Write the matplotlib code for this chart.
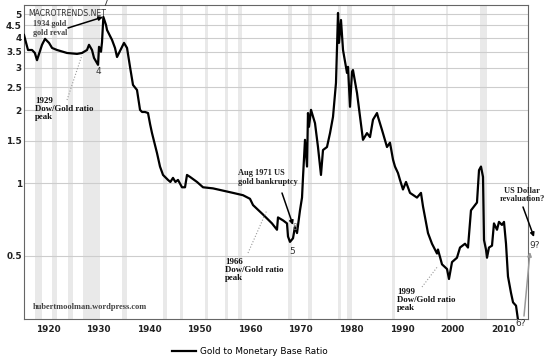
#goldmonetarybase.py

import matplotlib
matplotlib.use('Agg')
from matplotlib import pyplot as plt
from matplotlib.lines import Line2D

# Gold to Monetary Base Ratio (x = year on the chart's axis)
years = [1915.25, 1916.04, 1916.84, 1917.4, 1917.82, 1918.81, 1919.41, 1920.2, 1920.8, 1921.78,
         1923.76, 1925.74, 1926.72, 1927.71, 1928.11, 1928.7, 1929.1, 1929.89, 1930.09, 1930.48,
         1930.68, 1930.95, 1931.47, 1931.67, 1932.66, 1933.25, 1933.65, 1934.04, 1934.64, 1935.03,
         1935.63, 1936.22, 1936.81, 1937.6, 1938.2, 1938.6, 1939.19, 1939.78, 1940.2, 1940.57,
         1941.56, 1942.15, 1942.75, 1943.73, 1944.2, 1944.72, 1945.2, 1945.71, 1946.5, 1947.1,
         1947.49, 1948.09, 1949.47, 1950.66, 1952.63, 1954.61, 1956.59, 1958.57, 1959.95, 1960.55,
         1962.53, 1964.3, 1965.29, 1965.49, 1966.48, 1967.27, 1967.47, 1967.86, 1968.46, 1968.85,
         1969.25, 1969.84, 1970.24, 1970.44, 1970.83, 1971.23, 1971.42, 1971.62, 1972.02, 1972.81,
         1973.4, 1973.99, 1974.39, 1975.18, 1975.78, 1976.37, 1976.96, 1977.36, 1977.56, 1977.95,
         1978.35, 1979.14, 1979.34, 1979.73, 1980.13, 1980.32, 1981.12, 1981.71, 1982.3, 1983.09,
         1983.69, 1984.28, 1985.07, 1985.27, 1986.06, 1987.05, 1987.64, 1988.24, 1988.63, 1989.22,
         1989.62, 1990.21, 1990.81, 1991.6, 1992.98, 1993.77, 1994.17, 1995.16, 1995.95, 1996.94,
         1997.13, 1997.93, 1998.92, 1999.31, 1999.91, 2000.89, 2001.49, 2002.48, 2003.07, 2003.66,
         2004.06, 2004.85, 2005.25, 2005.64, 2006.04, 2006.24, 2006.63, 2006.83, 2007.22, 2007.82,
         2008.21, 2008.81, 2009.2, 2009.79, 2010.19, 2010.59, 2010.98, 2011.58, 2011.98, 2012.57,
         2012.97]
ratio = [4.11, 3.56, 3.56, 3.46, 3.23, 3.74, 3.96, 3.81, 3.63, 3.56,
         3.46, 3.43, 3.46, 3.56, 3.74, 3.56, 3.30, 3.09, 3.67, 3.50,
         3.84, 4.88, 4.52, 4.31, 3.92, 3.63, 3.33, 3.46, 3.67, 3.81,
         3.63, 3.03, 2.55, 2.43, 2.01, 1.97, 1.97, 1.95, 1.75, 1.61,
         1.33, 1.17, 1.08, 1.03, 1.01, 1.05, 1.01, 1.03, 0.96, 0.96,
         1.08, 1.06, 1.01, 0.96, 0.95, 0.93, 0.91, 0.89, 0.86, 0.81,
         0.74, 0.68, 0.64, 0.72, 0.70, 0.68, 0.60, 0.57, 0.59, 0.66,
         0.62, 0.77, 0.87, 1.06, 1.51, 1.17, 1.95, 1.71, 2.01, 1.77,
         1.41, 1.08, 1.37, 1.41, 1.61, 1.88, 2.60, 5.07, 3.81, 4.74,
         3.56, 2.86, 3.03, 2.07, 2.89, 2.94, 2.36, 1.88, 1.51, 1.61,
         1.55, 1.83, 1.95, 1.88, 1.66, 1.41, 1.47, 1.25, 1.17, 1.10,
         1.03, 0.94, 1.01, 0.91, 0.87, 0.91, 0.80, 0.62, 0.56, 0.51,
         0.53, 0.46, 0.44, 0.40, 0.47, 0.49, 0.54, 0.56, 0.54, 0.77,
         0.79, 0.83, 1.13, 1.17, 1.06, 0.58, 0.53, 0.49, 0.54, 0.55,
         0.68, 0.64, 0.69, 0.67, 0.69, 0.56, 0.41, 0.35, 0.32, 0.31,
         0.27]

# grey shaded bands as drawn on the chart
band_start = [1917.43, 1920.79, 1923.96, 1926.92, 1934.64, 1942.75, 1946.11, 1951.05, 1955.01,
              1957.58, 1967.47, 1971.42, 1977.36, 1979.14, 1988.04, 1998.72, 2005.44]
band_end = [1918.81, 1921.78, 1924.94, 1930.28, 1935.63, 1943.54, 1946.7, 1951.65, 1955.6,
            1958.37, 1968.26, 1972.22, 1977.95, 1980.13, 1988.63, 1999.11, 2006.83]

y_ticks = [0.5, 1, 1.5, 2, 2.5, 3, 3.5, 4, 4.5, 5]
x_ticks = [1920, 1930, 1940, 1950, 1960, 1970, 1980, 1990, 2000, 2010]

W, H = 550, 361


def fxy(px, py):
    # pixel position -> figure fraction
    return px / W, 1 - py / H


fig = plt.figure(figsize=(W / 100, H / 100), dpi=100)
ax = fig.add_axes([24 / W, 1 - 319 / H, (528 - 24) / W, (319 - 5) / H])
ax.set_yscale('log')
ax.set_xlim(1915.25, 2014.94)
ax.set_ylim(0.273, 5.47)

for s, e in zip(band_start, band_end):
    ax.axvspan(s, e, color='#e9e9e9', lw=0, zorder=0)
for t in y_ticks:
    ax.axhline(t, color='#cdcdcd', lw=0.8, zorder=0.5)

ax.plot(years, ratio, color='black', lw=1.6, zorder=3, label='Gold to Monetary Base Ratio')

ax.set_yticks(y_ticks)
ax.set_yticklabels([f'{t:g}' for t in y_ticks])
ax.minorticks_off()
ax.set_xticks(x_ticks)
ax.set_xticklabels([str(t) for t in x_ticks])
ax.tick_params(axis='both', length=0, labelsize=6.4, colors='#222')
ax.tick_params(axis='y', pad=1.5)
ax.tick_params(axis='x', pad=4.5)
for lab in ax.get_xticklabels() + ax.get_yticklabels():
    lab.set_fontweight('bold')
for sp in ax.spines.values():
    sp.set_color('#666')
    sp.set_linewidth(0.8)

fig.legend(loc='center', bbox_to_anchor=fxy(250, 352), frameon=False, fontsize=6.4,
           handlelength=2.7, handletextpad=0.4)

serif = dict(family='Liberation Serif', weight='bold', va='center', linespacing=1.05)
fig.text(*fxy(28, 13), 'MACROTRENDS.NET', fontsize=5.6, color='#333', va='center')
fig.text(*fxy(33, 28.5), '1934 gold\ngold reval', fontsize=5.9, color='#444', **serif)
fig.text(*fxy(35, 109), '1929\nDow/Gold ratio\npeak', fontsize=6.3, color='#111', **serif)
fig.text(*fxy(33, 307), 'hubertmoolman.wordpress.com', fontsize=6.0, color='#444', **serif)
fig.text(*fxy(238, 177.5), 'Aug 1971 US\ngold bankruptcy', fontsize=6.0, color='#222', **serif)
fig.text(*fxy(225, 270), '1966\nDow/Gold ratio\npeak', fontsize=6.3, color='#111', **serif)
fig.text(*fxy(397, 300), '1999\nDow/Gold ratio\npeak', fontsize=6.3, color='#111', **serif)
fig.text(*fxy(522, 195), 'US Dollar\nrevaluation?', fontsize=6.0, color='#222', ha='center', **serif)

small = dict(fontsize=6.5, color='#333', ha='center', va='center')
fig.text(*fxy(105, 4), '7', **small)
fig.text(*fxy(98, 72), '4', **small)
fig.text(*fxy(292, 252), '5', **small)
fig.text(*fxy(295, 228), '8', fontsize=5.5, color='#777', ha='center', va='center')
fig.text(*fxy(521, 323), '6?', **small)
fig.text(*fxy(535, 245), '9?', **small)

# arrows
for (x0, y0), (x1, y1), col in [((68, 28), (103, 17), 'black'),
                                ((282, 193), (293, 225), 'black'),
                                ((523, 207), (534, 237), 'black'),
                                ((524, 316), (530, 252), '#999')]:
    ax.annotate('', xy=fxy(x1, y1), xycoords='figure fraction',
                xytext=fxy(x0, y0), textcoords='figure fraction',
                arrowprops=dict(arrowstyle='-|>', color=col, lw=1.1, mutation_scale=6,
                                shrinkA=0, shrinkB=0))

# dotted pointer lines
for (x0, y0), (x1, y1) in [((67, 100), (82, 55)), ((248, 253), (267, 210)), ((422, 287), (438, 266))]:
    a, b = fxy(x0, y0)
    c, d = fxy(x1, y1)
    fig.add_artist(Line2D([a, c], [b, d], transform=fig.transFigure, ls=':', color='#999', lw=0.8))

plt.savefig('out.png', dpi=100)
